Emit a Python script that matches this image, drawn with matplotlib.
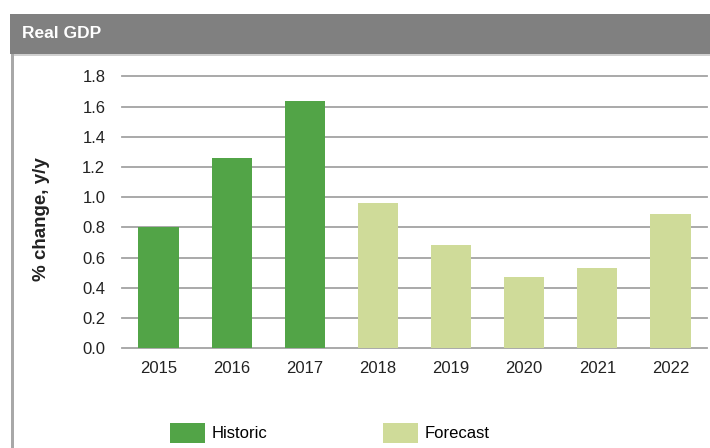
import matplotlib
matplotlib.use("Agg")

import matplotlib.pyplot as plt
from matplotlib.patches import Rectangle, Patch
import numpy as np

plt.rcParams['font.family'] = ['Liberation Sans', 'DejaVu Sans']

# Real GDP, % change y/y
years = ['2015', '2016', '2017', '2018', '2019', '2020', '2021', '2022']
historic = [0.80, 1.26, 1.64]
forecast = [0.96, 0.68, 0.47, 0.53, 0.89]
y_ticks = [0.0, 0.2, 0.4, 0.6, 0.8, 1.0, 1.2, 1.4, 1.6, 1.8]

HIST_COLOR = '#52a447'
FCST_COLOR = '#cfdb99'
GRID_COLOR = '#a3a3a3'

W, H = 710, 448
fig = plt.figure(figsize=(W / 100, H / 100), dpi=100)

# panel frame: grey header strip, left border line
fig.patches.append(Rectangle((10 / W, 1 - 54 / H), 1, 40 / H, transform=fig.transFigure,
                             facecolor='#808080', edgecolor='none', zorder=0))
fig.patches.append(Rectangle((11 / W, 0), 3 / W, 1 - 54 / H, transform=fig.transFigure,
                             facecolor='#a8a8a8', edgecolor='none', zorder=0))
fig.patches.append(Rectangle((14 / W, 1 - 56 / H), 1, 2 / H, transform=fig.transFigure,
                             facecolor='#d0d0d0', edgecolor='none', zorder=0))
fig.text(22 / W, 1 - 34 / H, 'Real GDP', color='white', fontsize=12.5, fontweight='bold',
         va='center', ha='left')

ax = fig.add_axes([122 / W, 1 - 348 / H, 585 / W, (348 - 76.5) / H])
x = np.arange(len(years))
n_hist = len(historic)
ax.bar(x[:n_hist], historic, width=0.55, color=HIST_COLOR, zorder=3)
ax.bar(x[n_hist:], forecast, width=0.55, color=FCST_COLOR, zorder=3)

ax.set_xlim(-0.5, len(years) - 0.5)
ax.set_ylim(0, 1.8)
ax.set_yticks(y_ticks)
ax.set_yticklabels([f'{v:.1f}' for v in y_ticks])
ax.set_xticks(x)
ax.set_xticklabels(years)
ax.tick_params(axis='both', length=0, labelsize=12, colors='#222222')
ax.tick_params(axis='y', pad=12)
ax.tick_params(axis='x', pad=9)
ax.yaxis.grid(True, color=GRID_COLOR, linewidth=1.3)
ax.set_axisbelow(True)
for s in ax.spines.values():
    s.set_visible(False)
for gl in ax.get_ygridlines():
    gl.set_clip_on(False)

fig.text(41 / W, 1 - 219 / H, '% change, y/y', rotation=90, fontsize=13.5,
         fontweight='bold', va='center', ha='center', color='#222222')

handles = [Patch(facecolor=HIST_COLOR, label='Historic'),
           Patch(facecolor=FCST_COLOR, label='Forecast')]
fig.legend(handles=handles, loc='center left', bbox_to_anchor=(162 / W, 1 - 433 / H),
           ncol=2, frameon=False, fontsize=12, handlelength=2.1, handleheight=1.55,
           handletextpad=0.4, columnspacing=6.9, borderaxespad=0, borderpad=0.5)

fig.savefig('out.png', dpi=100)
